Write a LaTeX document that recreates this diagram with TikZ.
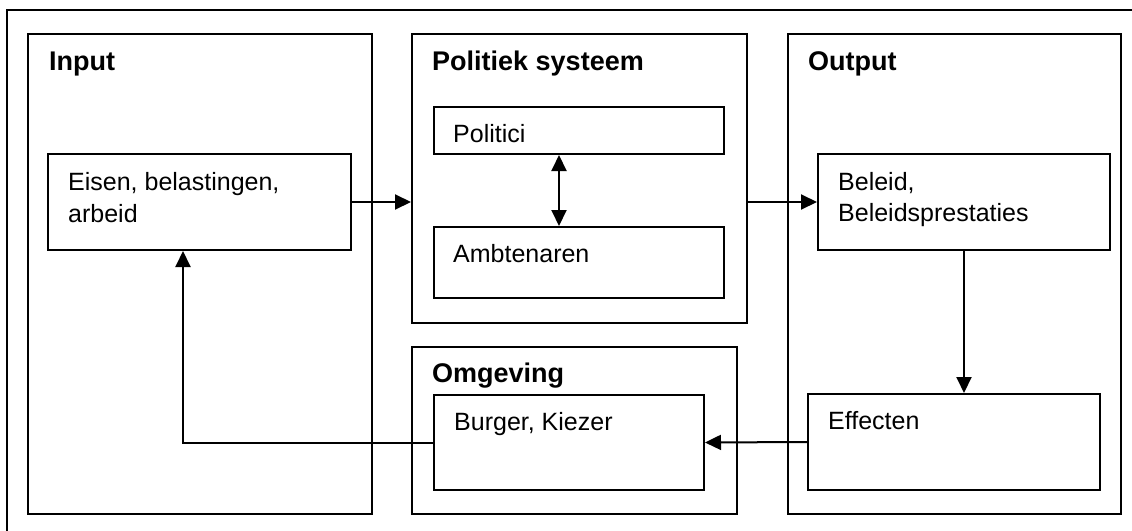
\documentclass[tikz,border=0pt]{standalone}
\usepackage{fontspec}
\setmainfont{Liberation Sans}
\usepackage{tikz}
\usetikzlibrary{arrows.meta}

\tikzset{
    box/.style={draw, line width=2pt, rectangle, inner sep=0pt, anchor=north west},
    txt/.style={anchor=base west, inner sep=0pt, font=\fontsize{25}{31}\selectfont},
    head/.style={txt, font=\fontsize{27}{31}\selectfont\bfseries},
    pijl/.style={line width=2pt, -{Triangle[length=16pt,width=15pt]}},
    dubbelpijl/.style={line width=2pt, {Triangle[length=16pt,width=15pt]}-{Triangle[length=16pt,width=15pt]}}
}

\begin{document}
\begin{tikzpicture}[x=1pt,y=-1pt]
                \useasboundingbox (0,0) rectangle (1132,530);
                \draw[line width=2pt] (7,10) rectangle (1145,545);
                \node[box, minimum width=344pt, minimum height=480pt] (input) at (27,33) {};
                \node[box, minimum width=303pt, minimum height=96pt] (eisen) at (47,153) {};
                \node[box, minimum width=335pt, minimum height=289pt] (politiek) at (411,33) {};
                \node[box, minimum width=290pt, minimum height=47pt] (politici) at (433,106) {};
                \node[box, minimum width=290pt, minimum height=71pt] (ambt) at (433,226) {};
                \node[box, minimum width=325pt, minimum height=167pt] (omgeving) at (411,346) {};
                \node[box, minimum width=270pt, minimum height=95pt] (burger) at (433,394) {};
                \node[box, minimum width=333pt, minimum height=480pt] (output) at (787,33) {};
                \node[box, minimum width=292pt, minimum height=96pt] (beleid) at (817,153) {};
                \node[box, minimum width=292pt, minimum height=96pt] (effecten) at (807,393) {};
                \node[head] (tinput) at (49,70) {Input};
                \node[head] (tpolitiek) at (432,70) {Politiek systeem};
                \node[head] (toutput) at (808,70) {Output};
                \node[head] (tomgeving) at (432,382) {Omgeving};
                \node[txt] (teisen) at (68,190) {Eisen, belastingen,};
                \node[txt] (tarbeid) at (68,222) {arbeid};
                \node[txt] (tpolitici) at (453,142) {Politici};
                \node[txt] (tambt) at (453,262) {Ambtenaren};
                \node[txt] (tbeleid) at (838,190) {Beleid,};
                \node[txt] (tprestaties) at (838,221) {Beleidsprestaties};
                \node[txt] (teffecten) at (828,429) {Effecten};
                \node[txt] (tburger) at (454,430) {Burger, Kiezer};
                \draw[pijl] (eisen.east) -- (politiek.west |- eisen.east);
                \draw[pijl] (politiek.east |- beleid.west) -- (beleid.west);
                \draw[dubbelpijl] ([xshift=-20pt]politici.south) -- ([xshift=-20pt]ambt.north);
                \draw[pijl] (beleid.south) -- (beleid.south |- effecten.north);
                \draw[pijl] (effecten.west) -- (burger.east);
                \draw[pijl] (burger.west) -| ([xshift=-16.5pt]eisen.south);
            \end{tikzpicture}
\end{document}
